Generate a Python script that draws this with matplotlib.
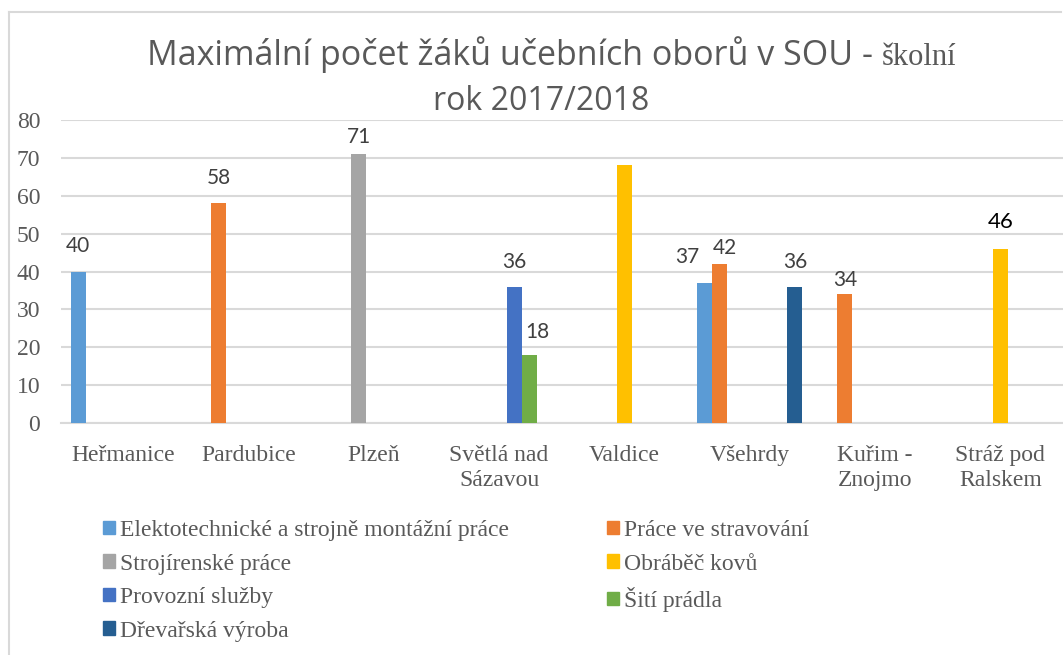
import numpy as np
import matplotlib
matplotlib.use("Agg")
import matplotlib.pyplot as plt
from matplotlib.patches import Patch
from matplotlib.font_manager import FontProperties, findfont

nan = np.nan

categories = ["Heřmanice", "Pardubice", "Plzeň", "Světlá nad\nSázavou", "Valdice",
              "Všehrdy", "Kuřim -\nZnojmo", "Stráž pod\nRalskem"]

series_names = ["Elektotechnické a strojně montážní práce", "Práce ve stravování",
                "Strojírenské práce", "Obráběč kovů", "Provozní služby",
                "Šití prádla", "Dřevařská výroba"]

elektro = [40, nan, nan, nan, nan, 37, nan, nan]
stravovani = [nan, 58, nan, nan, nan, 42, 34, nan]
strojirenske = [nan, nan, 71, nan, nan, nan, nan, nan]
obrabec = [nan, nan, nan, nan, 68, nan, nan, 46]
provozni = [nan, nan, nan, 36, nan, nan, nan, nan]
siti = [nan, nan, nan, 18, nan, nan, nan, nan]
drevarska = [nan, nan, nan, nan, nan, 36, nan, nan]
series_values = [elektro, stravovani, strojirenske, obrabec, provozni, siti, drevarska]

colors = ["#5B9BD5", "#ED7D31", "#A5A5A5", "#FFC000", "#4472C4", "#70AD47", "#255E91"]

# which bars carry a data label, and where the label sits (px from bar top)
label_pos = {(0, 0): (0, 25), (1, 1): (0, 25), (2, 2): (0, 17), (4, 3): (0, 25),
             (5, 3): (8, 23), (0, 5): (-17, 26), (1, 5): (5, 16), (6, 5): (0, 25),
             (1, 6): (0, 14), (3, 7): (0, 27)}

W, H = 1063, 655
fig = plt.figure(figsize=(W / 100, H / 100), dpi=100)
ax = fig.add_axes((60.5 / W, (H - 423) / H, (W - 60.5) / W, 303 / H))

grey_txt = "#595959"
grid_c = "#D9D9D9"
serif_file = findfont(FontProperties(family="Liberation Serif"))
sans_file = findfont(FontProperties(family="Lato"))
title_file = findfont(FontProperties(family="Open Sans"))


def serif(size):
    return FontProperties(fname=serif_file, size=size)


def sans(size):
    return FontProperties(fname=sans_file, size=size)


x = np.arange(len(categories))
bw = 0.12
handles = []
for i, (vals, c) in enumerate(zip(series_values, colors)):
    ax.bar(x + (i - 3) * bw, vals, width=bw, color=c, zorder=3)
    handles.append(Patch(color=c, label=series_names[i]))
    for j, v in enumerate(vals):
        if (i, j) in label_pos:
            dx, dy = label_pos[(i, j)]
            special = (i, j) == (3, 7)
            ax.annotate(f"{v:g}", (x[j] + (i - 3) * bw, v),
                        xytext=(dx * 0.72, dy * 0.72), textcoords="offset points",
                        ha="center", va="center",
                        fontproperties=sans(16 if special else 15),
                        color="black" if special else "#404040")

ax.set_xlim(-0.5, 7.5)
ax.set_ylim(0, 80)
ax.set_yticks(range(0, 81, 10))
ax.yaxis.grid(True, color=grid_c, lw=1.5, zorder=0)
for s in ["top", "right", "left"]:
    ax.spines[s].set_visible(False)
ax.spines["bottom"].set_color(grid_c)
ax.spines["bottom"].set_linewidth(1.5)
ax.tick_params(length=0)
ax.tick_params(axis="y", pad=14.5)
ax.tick_params(axis="x", pad=16)
ax.set_xticks(x)
ax.set_xticklabels(categories, color=grey_txt, linespacing=1.25)
for t in ax.get_xticklabels() + ax.get_yticklabels():
    t.set_fontproperties(serif(17))
    t.set_color(grey_txt)

# title: Calibri-like part, the last word came out in the serif face
t1 = fig.text(147 / W, 1 - 65 / H, "Maximální počet žáků učebních oborů v SOU -",
              ha="left", va="baseline", color=grey_txt,
              fontproperties=FontProperties(fname=title_file, size=24.5))
fig.canvas.draw()
end = t1.get_window_extent().x1
fig.text((end + 9) / W, 1 - 65 / H, "školní",
         ha="left", va="baseline", fontproperties=serif(22), color=grey_txt)
fig.text(541 / W, 1 - 110 / H, "rok 2017/2018",
         ha="center", va="baseline", color=grey_txt,
         fontproperties=FontProperties(fname=title_file, size=23))

# legend: two columns placed by hand, rows ordered like Excel
leg_kw = dict(frameon=False, prop=serif(17), labelcolor=grey_txt,
              handlelength=0.5, handleheight=0.5, handletextpad=0.2,
              labelspacing=0.53, borderpad=0, borderaxespad=0, loc="upper left")
fig.legend(handles=handles[0::2], bbox_to_anchor=(103 / W, 1 - 520 / H), **leg_kw)
fig.legend(handles=handles[1::2], bbox_to_anchor=(607 / W, 1 - 520 / H), **leg_kw)

# chart border (only top and left edges visible in the crop)
fig.add_artist(plt.Line2D([9 / W, 9 / W], [0, 1 - 12 / H], transform=fig.transFigure,
                          color=grid_c, lw=1.5))
fig.add_artist(plt.Line2D([9 / W, 1061 / W], [1 - 12 / H, 1 - 12 / H],
                          transform=fig.transFigure, color=grid_c, lw=1.5))

fig.savefig("out.png", dpi=100)
